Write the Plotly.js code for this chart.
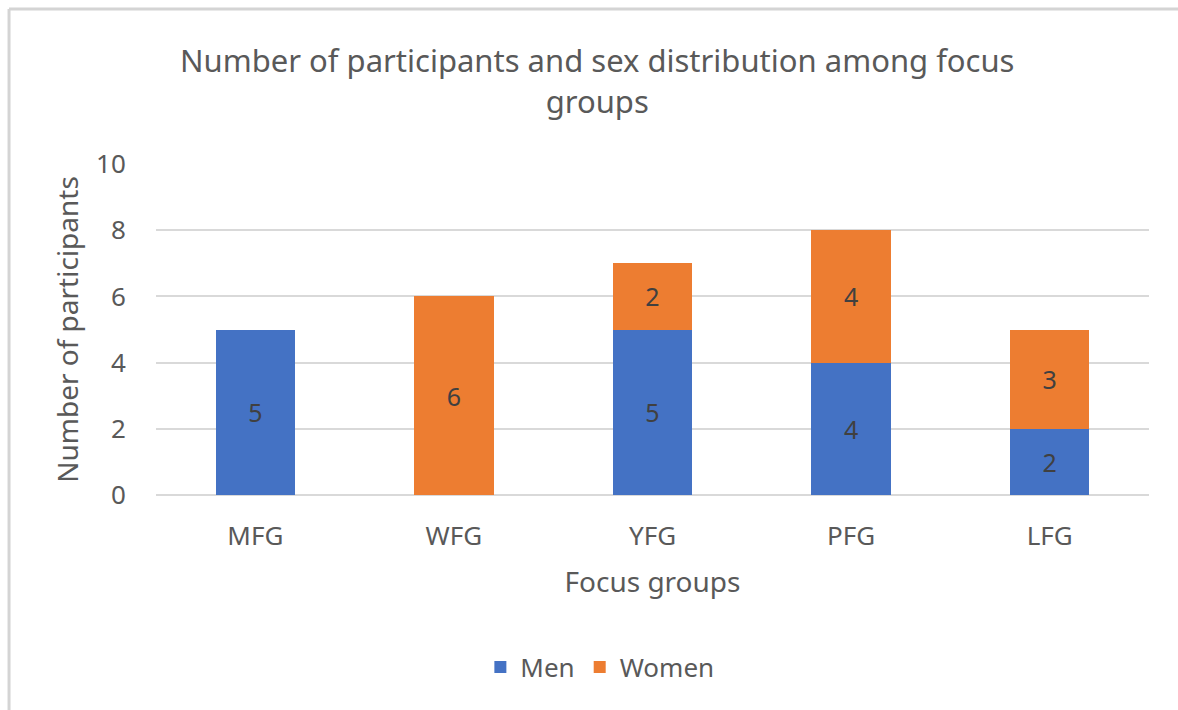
<!DOCTYPE html>
<html>
<head>
<meta charset="utf-8">
<script src="https://cdn.plot.ly/plotly-3.0.1.min.js"></script>
<style>html,body{margin:0;padding:0;background:#fff;}#chart{width:1178px;height:710px;}</style>
</head>
<body>
<div id="chart"></div>
<script>
const categories = ["MFG", "WFG", "YFG", "PFG", "LFG"];
const men = [5, 0, 5, 4, 2];
const women = [0, 6, 2, 4, 3];
const yTicks = [0, 2, 4, 6, 8, 10];

const FONT = "Noto Sans, Open Sans, sans-serif";
const label = v => v ? String(v) : "";

const traces = [
  {type: "bar", name: "Men", x: categories, y: men, text: men.map(label),
   marker: {color: "#4472C4"}, textposition: "inside", insidetextanchor: "middle",
   textfont: {family: FONT, size: 25, color: "#404040"}, hoverinfo: "x+y+name"},
  {type: "bar", name: "Women", x: categories, y: women, text: women.map(label),
   marker: {color: "#ED7D31"}, textposition: "inside", insidetextanchor: "middle",
   textfont: {family: FONT, size: 25, color: "#404040"}, hoverinfo: "x+y+name"}
];

const layout = {
  width: 1178, height: 710,
  paper_bgcolor: "#fff", plot_bgcolor: "#fff",
  margin: {l: 156, r: 29, t: 164, b: 215},
  barmode: "stack", bargap: 0.6,
  font: {family: FONT, color: "#595959"},
  title: {text: "Number of participants and sex distribution among focus<br>groups",
          font: {family: FONT, size: 31, color: "#595959"},
          x: 0.507, xanchor: "center", y: 0.898, yanchor: "middle"},
  xaxis: {type: "category", showgrid: false, zeroline: false, showline: false,
          ticks: "outside", ticklen: 18, tickcolor: "rgba(0,0,0,0)",
          tickfont: {family: FONT, size: 26, color: "#595959"},
          title: {text: "Focus groups", font: {family: FONT, size: 28, color: "#595959"}, standoff: 20},
          automargin: false},
  yaxis: {range: [0, 10], tickvals: yTicks, ticktext: yTicks.map(String),
          showgrid: true, gridcolor: "#d9d9d9", gridwidth: 2,
          zeroline: true, zerolinecolor: "#d9d9d9", zerolinewidth: 2, showline: false,
          ticks: "outside", ticklen: 24, tickcolor: "rgba(0,0,0,0)",
          tickfont: {family: FONT, size: 26, color: "#595959"},
          title: {text: "Number of participants", font: {family: FONT, size: 28, color: "#595959"}, standoff: 9},
          automargin: false},
  showlegend: true,
  legend: {orientation: "h", x: 0.447, xanchor: "center", y: -0.52, yanchor: "middle",
           font: {family: FONT, size: 26, color: "#595959"}, traceorder: "normal"},
  shapes: [
    {type: "line", xref: "paper", yref: "paper", x0: -0.148, x1: 1.04, y0: 1.468, y1: 1.468,
     line: {color: "#d4d4d4", width: 3}},
    {type: "line", xref: "paper", yref: "paper", x0: -0.148, x1: -0.148, y0: 1.468, y1: -0.66,
     line: {color: "#d4d4d4", width: 3}}
  ]
};

Plotly.newPlot("chart", traces, layout, {displayModeBar: false, responsive: false});
</script>
</body>
</html>
